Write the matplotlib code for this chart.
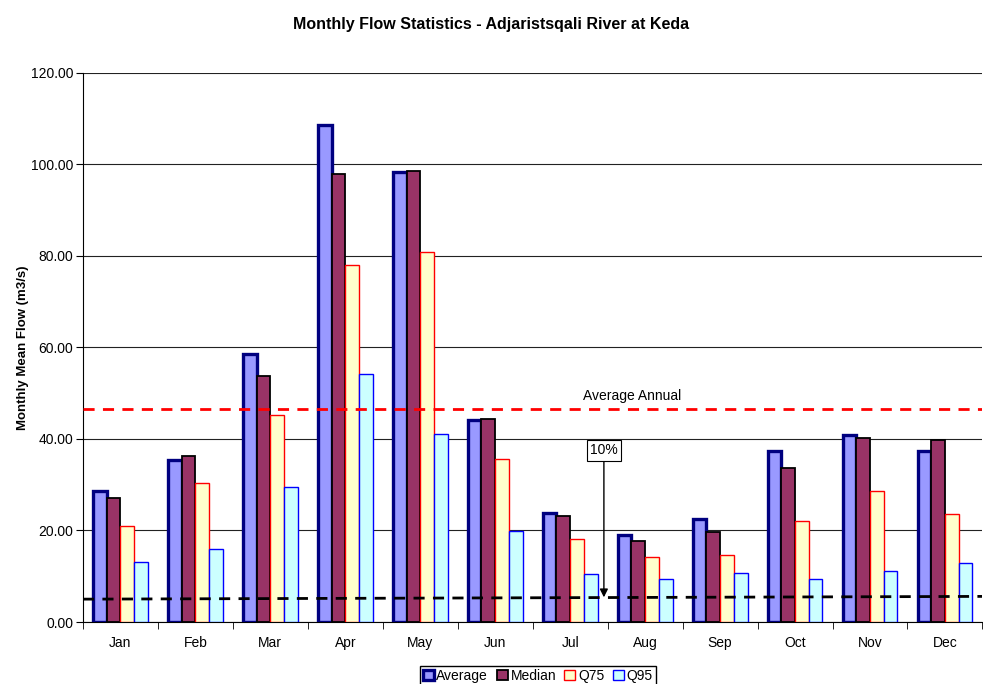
import numpy as np
from matplotlib import pyplot as plt

plt.rcParams['font.family'] = ['Liberation Sans', 'DejaVu Sans']

# data
months = ['Jan', 'Feb', 'Mar', 'Apr', 'May', 'Jun', 'Jul', 'Aug', 'Sep', 'Oct', 'Nov', 'Dec']
average = [28.6, 35.5, 58.5, 108.5, 98.3, 44.1, 23.8, 19.1, 22.5, 37.3, 40.8, 37.3]
median = [27.2, 36.2, 53.8, 97.8, 98.5, 44.3, 23.2, 17.7, 19.7, 33.6, 40.2, 39.8]
q75 = [20.9, 30.4, 45.2, 78.0, 80.9, 35.6, 18.2, 14.3, 14.6, 22.0, 28.6, 23.6]
q95 = [13.1, 15.9, 29.4, 54.2, 41.0, 19.9, 10.5, 9.3, 10.7, 9.3, 11.1, 12.8]
average_annual = 46.6
ten_pct_ends = [5.0, 5.6]

series = [
    ('Average', average, '#9999FF', '#000080', 2.4),
    ('Median', median, '#993366', 'black', 1.3),
    ('Q75', q75, '#FFFFCC', 'red', 1.0),
    ('Q95', q95, '#CCFFFF', 'blue', 1.0),
]

fig = plt.figure(figsize=(9.83, 6.84), dpi=100)
ax = fig.add_axes([0.0844, 0.0906, 0.915, 0.803])

x = np.arange(len(months))
w = 0.183
for i, (name, vals, fc, ec, lw) in enumerate(series):
    ax.bar(x + (i - 1.5) * w, vals, w, color=fc, edgecolor=ec, linewidth=lw,
           label=name, zorder=3)

ax.set_xlim(-0.5, len(months) - 0.5)
ax.set_ylim(0, 120)

# reference lines
ax.axhline(average_annual, color='red', linestyle=(0, (4, 3)), linewidth=2, zorder=4)
ax.text(6.83, average_annual + 1.3, 'Average Annual', ha='center', va='bottom', fontsize=10)
ax.plot([-0.5, len(months) - 0.5], ten_pct_ends, color='black', linestyle=(0, (4, 3)),
        linewidth=2, zorder=4)
ax.annotate('10%', xy=(6.45, 5.4), xytext=(6.45, 37.5), ha='center', va='center',
            fontsize=10,
            bbox=dict(boxstyle='square,pad=0.25', fc='white', ec='black', lw=0.8),
            arrowprops=dict(arrowstyle='-|>', color='black', lw=1, mutation_scale=12,
                            shrinkA=0, shrinkB=0),
            zorder=5)

# axes styling
ax.set_yticks(np.arange(0, 121, 20))
ax.set_yticklabels(['%.2f' % v for v in np.arange(0, 121, 20)], fontsize=10)
ax.yaxis.grid(True, color='#222222', linewidth=0.8, zorder=0)
ax.set_xticks(x)
ax.set_xticklabels(months, fontsize=10)
ax.set_xticks(np.arange(-0.5, len(months)), minor=True)
ax.tick_params(axis='x', which='major', length=0, pad=10)
ax.tick_params(axis='x', which='minor', length=5, direction='out')
ax.tick_params(axis='y', length=5, direction='out', pad=2)
for s in ['top', 'right']:
    ax.spines[s].set_visible(False)

plt.ylabel('Monthly Mean Flow (m3/s)', fontsize=9.5, fontweight='bold', labelpad=1)
fig.suptitle('Monthly Flow Statistics - Adjaristsqali River at Keda', y=0.975,
             fontsize=11.5, fontweight='bold')

fig.legend(loc='center', bbox_to_anchor=(0.547, 0.012), ncol=4, fontsize=10,
           frameon=True, fancybox=False, edgecolor='black', framealpha=1,
           handlelength=0.8, handleheight=0.8, handletextpad=0.2, columnspacing=0.6,
           borderpad=0.2, borderaxespad=0)

plt.savefig('out.png', dpi=100)
